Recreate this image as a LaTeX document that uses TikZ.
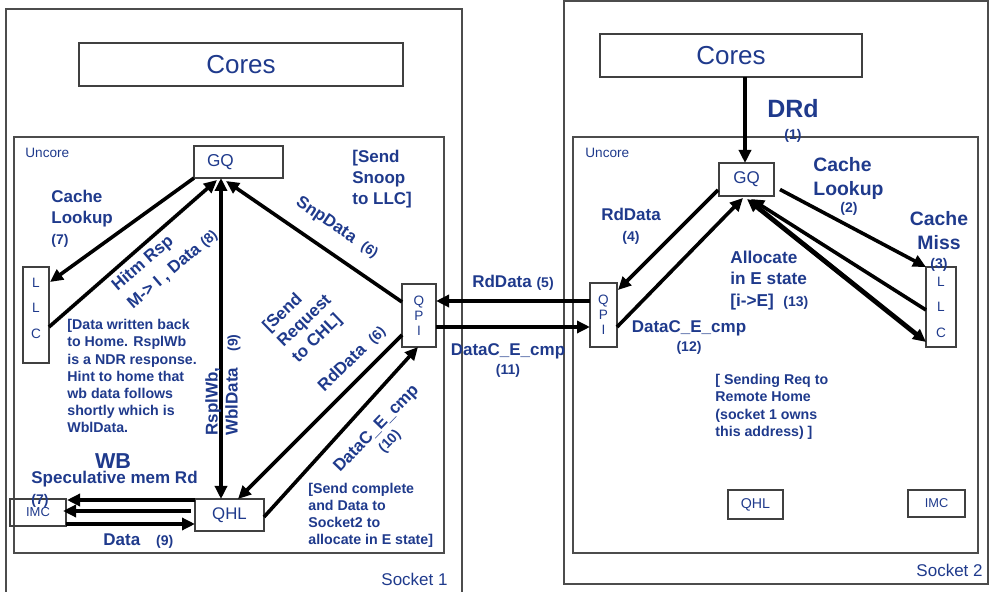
\documentclass[tikz,border=0pt]{standalone}
\usepackage{fontspec}
\setmainfont{Liberation Sans}
\usetikzlibrary{calc,arrows.meta}
\definecolor{lblue}{RGB}{31,58,140}
\newcommand{\numsz}{\fontsize{7}{8}\selectfont}
\begin{document}
\begin{tikzpicture}[x=0.5pt,y=-0.5pt]
\tikzset{box/.style = {draw=black!75, line width=0.6pt, inner sep=0pt, outer sep=0pt, text=lblue},
  lbl/.style = {text=lblue, inner sep=0pt, font=\bfseries\fontsize{8.5}{10.5}\selectfont},
  note/.style = {lbl, align=left, font=\bfseries\fontsize{7.1}{8.6}\selectfont},
  arr/.style = {line width=1.8pt, -{Triangle[length=6.5pt,width=6pt]}},
  arr2/.style = {arr, {Triangle[length=6.5pt,width=6pt]}-{Triangle[length=6.5pt,width=6pt]}},
  frame/.style = {draw=black!70, line width=0.6pt}}
\useasboundingbox (0,0) rectangle (990,592);
% sockets / uncore
\draw[frame] (6,9) rectangle (462,600);
\draw[frame] (14,137) rectangle (444,553);
\draw[frame] (564,1) rectangle (988,584);
\draw[frame] (573,137) rectangle (978,553);
% socket 1
\node[box, minimum width=162pt, minimum height=21.5pt, font=\fontsize{13}{15}\selectfont] (coresL) at (241,64.5) {Cores};
\node[box, minimum width=44.5pt, minimum height=16pt, text width=31.5pt, inner xsep=6.5pt, align=left, font=\fontsize{8.6}{10}\selectfont] (gqL) at (238.5,162) {GQ};
\node[box, minimum width=13pt, minimum height=48pt, align=center, font=\fontsize{6.8}{12.75}\selectfont] (llcL) at (36,315) {L\\L\\C\\[-5.75pt]{}};
\node[box, minimum width=17pt, minimum height=31.5pt, align=center, font=\fontsize{6.8}{7.5}\selectfont] (qpiL) at (419,315.5) {Q\\P\\I};
\node[box, minimum width=34.5pt, minimum height=16pt, font=\fontsize{8.4}{10}\selectfont] (qhlL) at (229.5,515) {QHL};
\node[box, minimum width=28pt, minimum height=13.5pt, font=\fontsize{6.5}{8}\selectfont] (imcL) at (38,512.5) {IMC};
% socket 2
\node[box, minimum width=131pt, minimum height=21.5pt, font=\fontsize{13}{15}\selectfont] (coresR) at (731,55.5) {Cores};
\node[box, minimum width=27.5pt, minimum height=16.5pt, font=\fontsize{8.5}{10}\selectfont] (gqR) at (746.5,179.5) {GQ};
\node[box, minimum width=13.5pt, minimum height=32pt, align=center, font=\fontsize{6.8}{7.5}\selectfont] (qpiR) at (603.5,315) {Q\\P\\I};
\node[box, minimum width=15pt, minimum height=40pt, align=center, font=\fontsize{6.8}{12.75}\selectfont] (llcR) at (941,307) {L\\L\\C};
\node[box, minimum width=27.5pt, minimum height=14.5pt, font=\fontsize{7.1}{9}\selectfont] (qhlR) at (755.5,504.5) {QHL};
\node[box, minimum width=28.5pt, minimum height=13.5pt, font=\fontsize{6.4}{8}\selectfont] (imcR) at (936.5,503.5) {IMC};
% arrows socket 1
\draw[arr] (gqL.south west) -- ($(llcL.north east)+(1,15)$);
\draw[arr] ($(llcL.north east)+(0,60)$) -- ($(gqL.south west)+(23,2)$);
\draw[arr2] ($(gqL.south west)+(27,0)$) -- ($(qhlL.north west)+(26,0)$);
\draw[arr] ($(qpiL.north west)+(0,18)$) -- ($(gqL.south west)+(32,3)$);
\draw[arr] ($(qpiL.north west)+(0,51)$) -- ($(qhlL.north west)+(43,0)$);
\draw[arr] ($(qhlL.east)+(0,2)$) -- ($(qpiL.south west)+(16,0)$);
\draw[arr] ($(qhlL.north west)+(0,1)$) -- ($(imcL.north east)+(1,1)$);
\draw[arr] ($(qhlL.west)+(-4,-4)$) -- ($(imcL.east)+(-3,-1.5)$);
\draw[arr] ($(imcL.south east)+(0,-2)$) -- ($(qhlL.south west)+(0,-7)$);
% between sockets
\draw[arr] ($(qpiR.north west)+(0,18)$) -- ($(qpiL.north east)+(0,17)$);
\draw[arr] ($(qpiL.north east)+(0,43)$) -- ($(qpiR.north west)+(0,44)$);
% arrows socket 2
\draw[arr] ($(coresR.south west)+(145,0)$) -- ($(gqR.north west)+(26,0)$);
\draw[arr] ($(gqR.south west)+(-1,-6)$) -- ($(qpiR.north east)+(1,7)$);
\draw[arr] ($(qpiR.north east)+(0,44)$) -- ($(gqR.south west)+(24,2)$);
\draw[arr] ($(gqR.east)+(6,10)$) -- (llcR.north west);
\draw[arr] ($(llcR.north west)+(0,43)$) -- ($(gqR.south west)+(32,3)$);
\draw[arr2, line width=2.4pt] ($(gqR.south west)+(28,3)$) -- ($(llcR.south west)+(0,-5)$);
% labels socket 1
\node[lbl, anchor=west, font=\fontsize{6.8}{8}\selectfont] (uncL) at (25,153) {Uncore};
\node[lbl, align=left, anchor=north west] (lookL) at (51,190) {Cache\\Lookup\\{\numsz (7)}};
\node[lbl, align=left, anchor=north west, rotate=40.6, font=\bfseries\fontsize{8.5}{12}\selectfont] (hitm) at (109,282) {Hitm Rsp\\M-> I , Data {\numsz (8)}};
\node[lbl, rotate=-34] (snp) at (337,228) {SnpData~~{\numsz (6)}};
\node[lbl, align=left, anchor=north west] (snoop) at (352,150) {[Send\\Snoop\\to LLC]};
\node[note, anchor=north west] (wbnote) at (67,319) {[Data written back\\to Home. RsplWb\\is a NDR response.\\Hint to home that\\wb data follows\\shortly which is\\WblData.};
\node[lbl, align=left, anchor=north west, rotate=90, font=\bfseries\fontsize{8.5}{10}\selectfont] (rspl) at (205,436) {RsplWb,\\WblData\hspace{8pt}{\numsz (9)}};
\node[lbl, align=left, anchor=north west, rotate=44] (sendreq) at (260,324) {[Send\\Request\\to CHL]};
\node[lbl, rotate=44] (rd6) at (352,359) {RdData~~{\numsz (6)}};
\node[lbl, align=center, rotate=46, font=\bfseries\fontsize{8.5}{9}\selectfont] (dc10) at (383,435) {DataC\_E\_cmp\\{\numsz (10)}};
\node[note, anchor=north west, font=\bfseries\fontsize{7.1}{8.5}\selectfont] (sendc) at (308,483) {[Send complete\\and Data to\\Socket2 to\\allocate in E state]};
\node[lbl, font=\bfseries\fontsize{10.8}{12}\selectfont] (wb) at (113,461) {WB};
\node[lbl, align=left, anchor=north west] (spec) at (31,471) {Speculative mem Rd\\{\numsz (7)}};
\node[lbl, anchor=west] (data9) at (103,541) {Data\hspace{8pt}{\numsz (9)}};
\node[lbl, anchor=east, font=\fontsize{8.5}{10}\selectfont] (s1) at (448,579) {Socket 1};
% labels between
\node[lbl] (rd5) at (513,283) {RdData {\numsz (5)}};
\node[lbl, align=center, font=\bfseries\fontsize{8.5}{9.5}\selectfont] (dc11) at (508,361) {DataC\_E\_cmp\\{\numsz (11)}};
% labels socket 2
\node[lbl, anchor=west, font=\fontsize{6.8}{8}\selectfont] (uncR) at (585,153) {Uncore};
\node[lbl, align=center, anchor=north, font=\bfseries\fontsize{12.5}{11}\selectfont] (drd) at (793,99) {DRd\\{\numsz (1)}};
\node[lbl, align=left, anchor=north west, font=\bfseries\fontsize{9.7}{12}\selectfont] (lookR) at (813,157) {Cache\\Lookup};
\node[lbl, font=\numsz\bfseries] (n2) at (849,209) {(2)};
\node[lbl, align=center, anchor=north, font=\bfseries\fontsize{9.7}{12}\selectfont] (miss) at (939,211) {Cache\\Miss\\[-2.5pt]{\numsz (3)}};
\node[lbl, align=center, anchor=north] (rd4) at (631,208) {RdData\\{\numsz (4)}};
\node[lbl, align=left, anchor=north west, font=\bfseries\fontsize{8.6}{10.7}\selectfont] (alloc) at (730,250.5) {Allocate\\in E state\\{}[i->E]~~{\numsz (13)}};
\node[lbl, align=center, anchor=north, font=\bfseries\fontsize{8.5}{9.5}\selectfont] (dc12) at (689,320.5) {DataC\_E\_cmp\\{\numsz (12)}};
\node[note, anchor=north west] (remote) at (715,374) {[ Sending Req to\\Remote Home\\(socket 1 owns\\this address) ]};
\node[lbl, anchor=east, font=\fontsize{8.5}{10}\selectfont] (s2) at (983,570) {Socket 2};
\end{tikzpicture}
\end{document}
